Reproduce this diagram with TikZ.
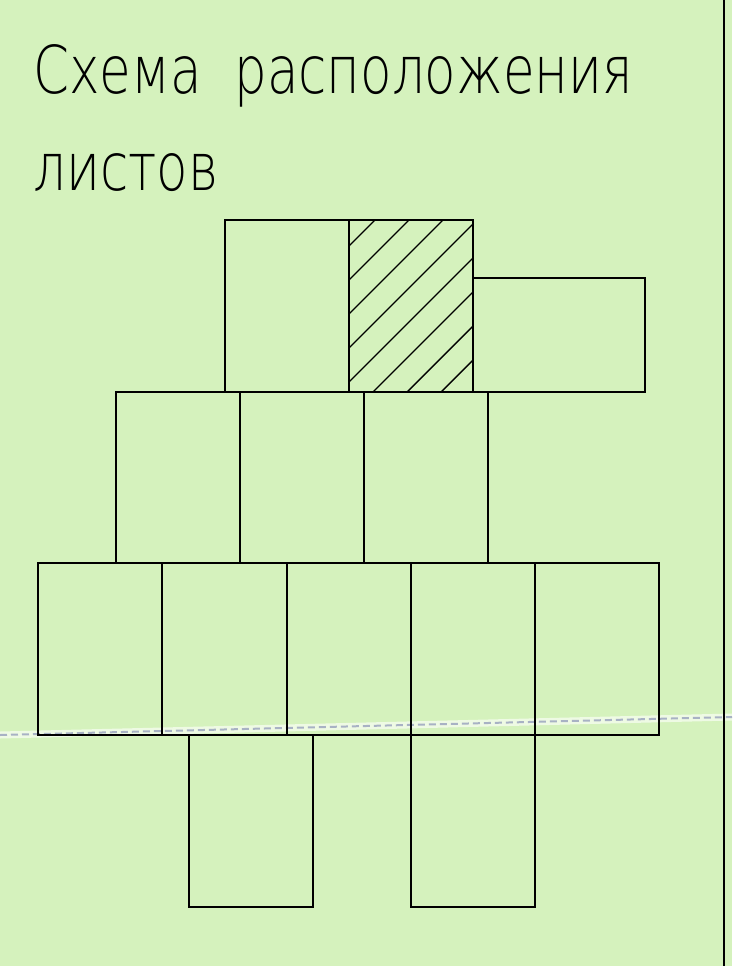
\documentclass[tikz,border=0pt]{standalone}
\usepackage{fontspec}
\newfontfamily\titlefont[FakeStretch=0.78]{DejaVu Sans ExtraLight}
\usepackage{tikz}
\usetikzlibrary{positioning}
\definecolor{sheetbg}{RGB}{213,242,189}
\definecolor{foldgray}{RGB}{168,178,196}
\tikzset{
  sheet/.style     = {draw=black, line width=1.7pt},
  hatchline/.style = {black, line width=1.4pt},
  foldline/.style  = {foldgray, dash pattern=on 7pt off 4pt, line width=2pt},
  foldhalo/.style  = {white!60!sheetbg, line width=7pt},
  frameline/.style = {black, line width=2.6pt},
  titlestyle/.style = {font=\titlefont\fontsize{66}{70}\selectfont, inner sep=0pt, anchor=base west}
}

\begin{document}
\begin{tikzpicture}[x=1pt, y=-1pt]
    % Background
    \fill[sheetbg] (0,0) rectangle (732,966);
    \useasboundingbox (0,0) rectangle (732,966);
    % Title
    \node[titlestyle] (title1) at (33,93) {Схема\ \ расположения};
    \node[titlestyle] (title2) at (33,190) {листов};
    % Fold line
    \coordinate (foldL) at (0,735);
    \coordinate (foldR) at (732,717);
    \draw[foldhalo] (foldL) -- (foldR);
    \draw[foldline] (foldL) -- (foldR);
    % Top row
    \draw[sheet] (225,220) rectangle (349,392);
    \begin{scope}
      \clip (349,220) rectangle (473,392);
      \foreach \c in {0,...,7}
        \draw[hatchline] ({595+34*\c-400},400) -- ({595+34*\c-200},200);
    \end{scope}
    \draw[sheet] (349,220) rectangle (473,392);
    \draw[sheet] (473,278) rectangle (645,392);
    % Second row
    \foreach \x in {116,240,364}
      \draw[sheet] (\x,392) rectangle ++(124,171);
    % Third row
    \foreach \a/\b in {38/162,162/287,287/411,411/535,535/659}
      \draw[sheet] (\a,563) rectangle (\b,735);
    % Bottom row
    \foreach \x in {189,411}
      \draw[sheet] (\x,735) rectangle ++(124,172);
    % Frame
    \coordinate (frameT) at (724,0);
    \coordinate (frameB) at (724,966);
    \draw[frameline] (frameT) -- (frameB);
  \end{tikzpicture}
\end{document}
